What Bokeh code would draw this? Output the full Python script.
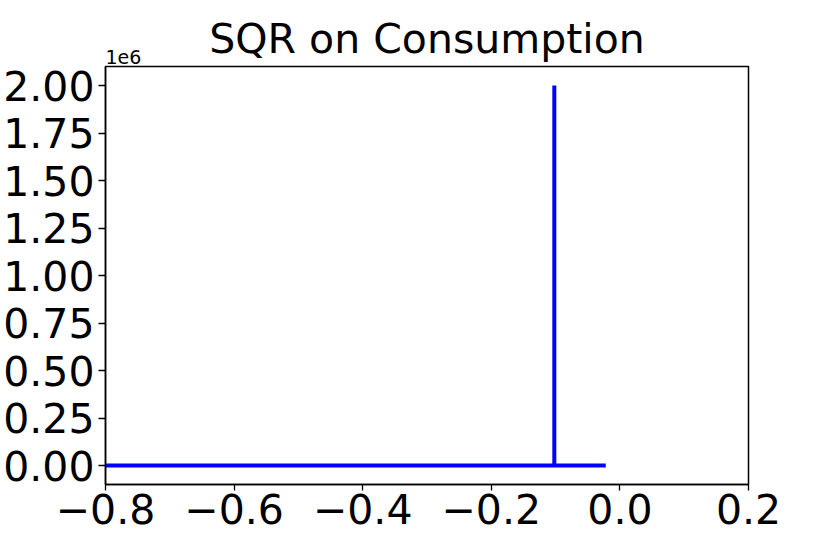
from bokeh.plotting import figure
from bokeh.models import Range1d, FixedTicker, CustomJSTickFormatter, Title
from bokeh.embed import file_html
from bokeh.resources import INLINE

# data
sqr_x = [-0.8, -0.102, -0.102, -0.102, -0.022]
consumption = [0.0, 0.0, 2.0e6, 0.0, 0.0]
x_ticks = [-0.8, -0.6, -0.4, -0.2, 0.0, 0.2]
y_ticks = [0.0, 0.25e6, 0.5e6, 0.75e6, 1.0e6, 1.25e6, 1.5e6, 1.75e6, 2.0e6]
title_text = "SQR on Consumption"
offset_text = "1e6"

FONT = "DejaVu Sans"

p = figure(width=815, height=538, output_backend="svg", toolbar_location=None,
           title=None,
           x_range=Range1d(-0.8, 0.2), y_range=Range1d(-0.1e6, 2.1e6),
           min_border_left=96, min_border_right=67, min_border_top=66, min_border_bottom=54)

# offset text (closest to frame), then main title above it
p.add_layout(Title(text=offset_text, align="left", text_font=FONT, text_font_size="19px",
                   text_font_style="normal", text_color="black", standoff=5), "above")
p.add_layout(Title(text=title_text, align="center", text_font=FONT, text_font_size="41px",
                   text_font_style="normal", text_color="black", standoff=-34), "above")

p.xgrid.visible = False
p.ygrid.visible = False
p.outline_line_color = "black"
p.outline_line_width = 1.5
p.outline_line_alpha = 1.0
p.background_fill_color = "white"
p.border_fill_color = "white"

for ax in (p.xaxis[0], p.yaxis[0]):
    ax.axis_line_color = "black"
    ax.axis_line_width = 1.5
    ax.major_tick_out = 7
    ax.major_tick_in = 0
    ax.major_tick_line_width = 1.3
    ax.minor_tick_line_color = None
    ax.major_label_text_font = FONT
    ax.major_label_text_font_size = "41px"
    ax.major_label_text_color = "black"

p.xaxis[0].ticker = FixedTicker(ticks=x_ticks)
p.xaxis[0].formatter = CustomJSTickFormatter(code="""
    var v = Math.abs(tick) < 1e-9 ? 0 : tick;
    return v.toFixed(1).replace('-', '\u2212');
""")
p.xaxis[0].major_tick_out = 6
p.xaxis[0].major_label_standoff = 3

p.yaxis[0].ticker = FixedTicker(ticks=y_ticks)
p.yaxis[0].formatter = CustomJSTickFormatter(code="""
    var v = tick / 1e6;
    if (Math.abs(v) < 1e-9) v = 0;
    return v.toFixed(2).replace('-', '\u2212');
""")
p.yaxis[0].major_label_standoff = 4

p.line(sqr_x, consumption, line_color="#0000ff", line_width=4)

open("out.html", "w").write(file_html(p, INLINE))
